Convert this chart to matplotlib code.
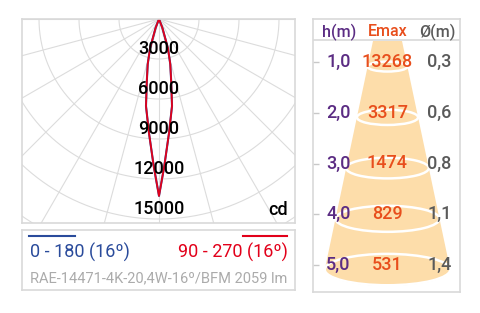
import numpy as np
import matplotlib
matplotlib.use('Agg')
import matplotlib.pyplot as plt
from matplotlib.patches import Ellipse, Polygon

# === Data ===
# intensity (cd) against angle from nadir (deg)
angles = [0, 2, 5, 8.5, 11, 14, 17, 21, 25]
cd_c0_180 = [13268, 11100, 8600, 6600, 4800, 3500, 2300, 700, 0]
cd_c90_270 = [13268, 11100, 8600, 6600, 4800, 3500, 2300, 700, 0]
ring_labels = [3000, 6000, 9000, 12000, 15000]
grid_rings = [3000, 6000, 9000, 12000, 15000, 18000, 21000]
spoke_angles = list(range(-90, 91, 15))

# illuminance table
heights = [1.0, 2.0, 3.0, 4.0, 5.0]
emax = [13268, 3317, 1474, 829, 531]
diameters = [0.3, 0.6, 0.8, 1.1, 1.4]

legend_c0 = '0 - 180 (16º)'
legend_c90 = '90 - 270 (16º)'
product = 'RAE-14471-4K-20,4W-16º/BFM 2059 lm'

# === Style ===
BLUE = '#2A4B9B'
RED = '#E2001A'
PURPLE = '#5B2C83'
ORANGE = '#E84E1C'
DGRAY = '#5A5A5A'
LGRAY = '#ABABAB'
BORDER = '#D9D9D9'
GRID = '#DCDCDC'
CONE = '#FDDDAA'

plt.rcParams['font.family'] = ['Roboto', 'DejaVu Sans']
MED = 500

W, H = 481, 313
fig = plt.figure(figsize=(W / 100, H / 100), dpi=100)


def box(l, t, r, b):
  "Axes rect from pixel edges."
  return [l / W, 1 - b / H, (r - l) / W, (b - t) / H]


def frame(ax):
  ax.set_xticks([])
  ax.set_yticks([])
  for s in ax.spines.values():
    s.set_color(BORDER)
    s.set_linewidth(1.2)


# === Polar diagram (drawn on cartesian axes, origin at top centre) ===
ax = fig.add_axes(box(22, 19, 295, 223))
scale = 75.0  # cd per pixel
cx = 159
ax.set_xlim((22 - cx) * scale, (295 - cx) * scale)
ax.set_ylim(-204 * scale, 0)
frame(ax)

t = np.radians(np.linspace(-90, 90, 361))
for r in grid_rings:
  ax.plot(r * np.sin(t), -r * np.cos(t), color=GRID, lw=0.8, zorder=1)
for a in spoke_angles:
  ar = np.radians(a)
  ax.plot([0, 30000 * np.sin(ar)], [0, -30000 * np.cos(ar)], color=GRID, lw=0.8, zorder=1)

for r in ring_labels:
  ax.text(0, -r + 5 * scale, str(r), ha='center', va='baseline',
          fontsize=13, fontweight=MED, color='black', zorder=3)
ax.text((288 - cx) * scale, -(215 - 19) * scale, 'cd', ha='right', va='baseline',
        fontsize=13, fontweight=MED, color='black', zorder=3)

th = np.radians(angles)
full_th = np.concatenate([-th[::-1], th[1:]])
for vals, col, lw in [(cd_c0_180, BLUE, 1.5), (cd_c90_270, RED, 1.3)]:
  v = np.asarray(vals, dtype=float)
  full_v = np.concatenate([v[::-1], v[1:]])
  ax.plot(full_v * np.sin(full_th), -full_v * np.cos(full_th), color=col, lw=lw, zorder=2)

# === Legend box ===
lg = fig.add_axes(box(22, 230, 295, 290))
lg.set_xlim(22, 295)
lg.set_ylim(290, 230)
frame(lg)
lg.plot([29, 75], [236, 236], color=BLUE, lw=1.5)
lg.plot([243, 287], [236, 236], color=RED, lw=1.5)
lg.text(30, 252.5, legend_c0, color=BLUE, fontsize=13, ha='left', va='center')
lg.text(288, 252.5, legend_c90, color=RED, fontsize=13, ha='right', va='center')
lg.text(30, 278, product, color=LGRAY, fontsize=10.5, ha='left', va='center')

# === Illuminance cone table ===
tb = fig.add_axes(box(313, 19, 460, 292))
px_m = 50.75
y0 = 11.25
xc = 387.5


def hy(px):
  "Pixel row -> height in m on the table axes."
  return (px - y0) / px_m


tb.set_xlim(313 - xc, 460 - xc)
tb.set_ylim(hy(292), hy(19))
frame(tb)
tb.set_yticks(heights)
tb.tick_params(axis='y', direction='in', length=4, color='#C8C8C8', width=1, labelleft=False)


def half_w(h):
  return (16.45 + 21.42 * h) / 2


off = 0.09
h_top = hy(41)
h_bot = heights[-1] + off
cone = Polygon([(-half_w(h_top), h_top), (half_w(h_top), h_top),
                (half_w(h_bot), h_bot), (-half_w(h_bot), h_bot)],
               closed=True, fc=CONE, ec='none', zorder=1)
tb.add_patch(cone)
wb = 2 * half_w(h_bot)
tb.add_patch(Ellipse((0, h_bot), wb, 0.26 * wb / px_m, fc=CONE, ec='none', zorder=1))
for h in heights:
  w = 2 * half_w(h + off)
  tb.add_patch(Ellipse((0, h + off), w, 0.25 * w / px_m, fc='none', ec='white', lw=1.8, zorder=2))

tb.axhline(hy(40), color=BORDER, lw=1.2, zorder=2)
hh = hy(32)
tb.text(-48.5, hh, 'h(m)', color=PURPLE, fontsize=11.5, fontweight=MED, ha='center', va='center')
tb.text(0, hh, 'Emax', color=ORANGE, fontsize=11.5, fontweight=MED, ha='center', va='center')
tb.text(49.5, hh, 'Ø(m)', color=DGRAY, fontsize=11.5, fontweight=MED, ha='center', va='center')

for h, e, d in zip(heights, emax, diameters):
  tb.text(-49, h, f'{h:.1f}'.replace('.', ','), color=PURPLE, fontsize=13,
          fontweight=MED, ha='center', va='center', zorder=3)
  tb.text(0, h, str(e), color=ORANGE, fontsize=13, fontweight=MED,
          ha='center', va='center', zorder=3)
  tb.text(52, h, f'{d:.1f}'.replace('.', ','), color=DGRAY, fontsize=13,
          fontweight=MED, ha='center', va='center', zorder=3)

fig.savefig('out.png', dpi=100)
